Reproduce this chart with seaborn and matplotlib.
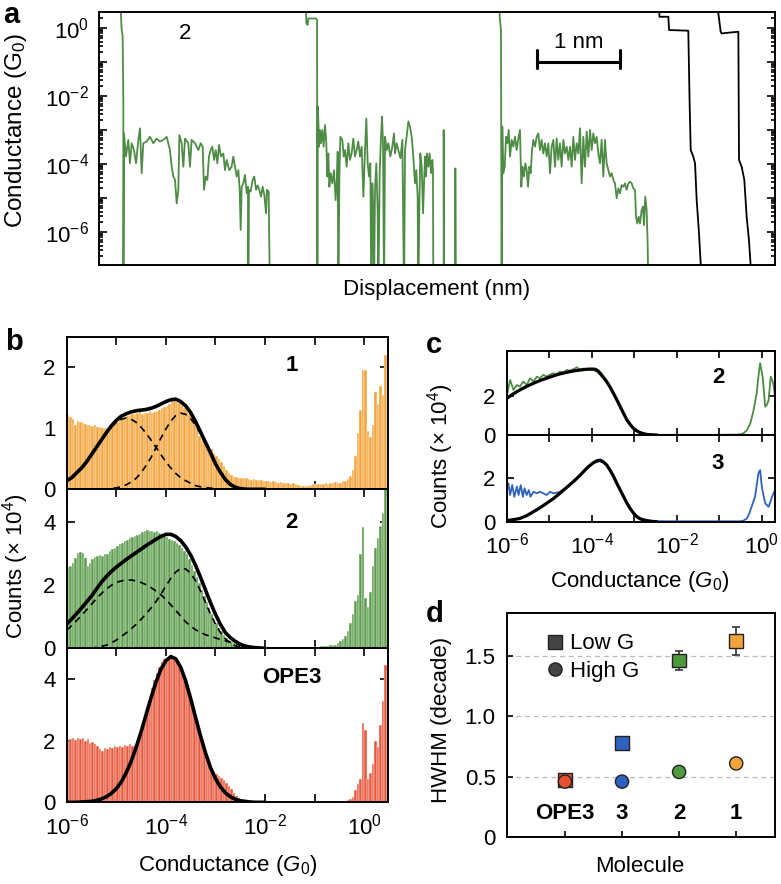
import numpy as np
import pandas as pd
import matplotlib
matplotlib.use("Agg")
import matplotlib.pyplot as plt
import seaborn as sns
from matplotlib.lines import Line2D

sns.set_theme(style="ticks")
plt.rcParams["font.family"] = ["Liberation Sans", "DejaVu Sans"]
plt.rcParams["mathtext.fontset"] = "custom"
plt.rcParams["mathtext.rm"] = "Liberation Sans"
plt.rcParams["mathtext.it"] = "Liberation Sans:italic"
plt.rcParams["mathtext.bf"] = "Liberation Sans:bold"
plt.rcParams["axes.unicode_minus"] = True
for key in ["text.color", "axes.labelcolor", "xtick.color", "ytick.color", "axes.edgecolor"]:
    plt.rcParams[key] = "black"

# ---------------- data: panel a (displacement in nm, log10 conductance in G0) ----------------
trace1_x = [0.253, 0.273, 0.285, 0.293, 0.294, 0.301, 0.325, 0.353, 0.373, 0.394,
            0.422, 0.446, 0.474, 0.494, 0.514, 0.534, 0.574, 0.614, 0.655, 0.695,
            0.735, 0.775, 0.815, 0.835, 0.855, 0.876, 0.896, 0.916, 0.936, 0.956,
            0.968, 0.996, 1.016, 1.036, 1.076, 1.096, 1.116, 1.157, 1.197, 1.225,
            1.249, 1.265, 1.285, 1.305, 1.325, 1.345, 1.365, 1.386, 1.406, 1.426,
            1.446, 1.470, 1.498, 1.518, 1.538, 1.570, 1.598, 1.618, 1.639, 1.659,
            1.679, 1.695, 1.707, 1.719, 1.739, 1.759, 1.779, 1.795, 1.799, 1.807,
            1.827, 1.851, 1.871, 1.892, 1.912, 1.932, 1.952, 1.972, 1.992, 2.012,
            2.024, 2.044, 2.060]
trace1_logG = [1.0, -0.06, -0.25, -2.22, -8.0, -3.10, -3.78, -3.29, -3.98, -3.39,
               -3.59, -3.98, -3.29, -2.95, -4.27, -3.39, -3.34, -3.20, -3.39, -3.25,
               -3.34, -3.29, -3.20, -3.39, -3.59, -4.08, -4.37, -4.47, -5.16, -4.76,
               -3.15, -3.39, -4.08, -3.25, -3.39, -4.08, -3.29, -3.39, -3.59, -3.39,
               -3.49, -4.76, -4.37, -4.47, -3.78, -3.59, -3.49, -3.88, -3.59, -3.98,
               -3.44, -3.78, -3.69, -4.18, -3.88, -4.18, -4.08, -3.78, -4.08, -4.37,
               -4.18, -4.76, -5.94, -4.67, -4.57, -4.32, -4.86, -4.67, -8.0, -4.76,
               -4.81, -4.47, -4.37, -4.76, -4.63, -4.76, -4.96, -4.67, -4.91, -5.45,
               -4.76, -4.81, -8.0]
trace2_x = [2.490, 2.498, 2.514, 2.522, 2.610, 2.627, 2.631, 2.635, 2.643, 2.651,
            2.663, 2.675, 2.691, 2.707, 2.723, 2.739, 2.751, 2.763, 2.775, 2.791,
            2.811, 2.831, 2.851, 2.867, 2.876, 2.884, 2.896, 2.908, 2.932, 2.948,
            2.964, 2.984, 3.004, 3.024, 3.044, 3.064, 3.084, 3.104, 3.124, 3.145,
            3.165, 3.185, 3.205, 3.221, 3.237, 3.253, 3.269, 3.281, 3.293, 3.305,
            3.313, 3.325, 3.341, 3.357, 3.365, 3.382, 3.398, 3.410, 3.422, 3.434,
            3.446, 3.466, 3.486, 3.510, 3.534, 3.554, 3.566, 3.586, 3.606, 3.631,
            3.655, 3.675, 3.687, 3.711, 3.727, 3.747, 3.767, 3.787, 3.807, 3.823,
            3.839, 3.847, 3.859, 3.871, 3.888, 3.904, 3.916, 3.928, 3.940, 3.952,
            3.968, 3.984, 4.000, 4.016, 4.024, 4.028, 4.153, 4.153, 4.157, 4.293,
            4.293, 4.297]
trace2_logG = [1.0, 0.14, 0.09, 0.28, 0.28, 0.24, -8.0, -2.31, -2.71, -3.49,
               -3.00, -3.39, -3.00, -3.49, -2.85, -3.39, -4.37, -3.69, -4.67, -4.27,
               -4.57, -4.18, -5.06, -4.37, -3.64, -8.0, -4.37, -3.20, -3.29, -3.78,
               -3.59, -4.08, -3.39, -3.88, -3.69, -3.25, -3.78, -3.59, -3.34, -3.78,
               -3.49, -4.96, -3.59, -2.66, -3.98, -4.37, -3.98, -8.0, -4.57, -5.55,
               -8.0, -4.76, -3.98, -5.35, -8.0, -4.18, -3.20, -2.61, -3.39, -8.0,
               -3.20, -3.59, -3.39, -3.78, -3.49, -3.10, -3.69, -3.39, -3.59, -3.83,
               -3.29, -8.0, -3.59, -3.10, -2.75, -2.90, -3.20, -3.78, -4.57, -4.18,
               -4.96, -8.0, -5.35, -3.69, -4.08, -5.45, -4.57, -3.78, -4.37, -3.69,
               -4.08, -3.69, -4.27, -3.88, -4.18, -8.0, -8.0, -3.00, -8.0, -8.0,
               -4.13, -8.0]
trace3_x = [4.811, 4.831, 4.843, 4.851, 4.859, 4.871, 4.888, 4.904, 4.920, 4.936,
            4.952, 4.972, 4.992, 5.012, 5.032, 5.052, 5.072, 5.088, 5.104, 5.120,
            5.137, 5.153, 5.169, 5.185, 5.201, 5.217, 5.233, 5.253, 5.273, 5.293,
            5.313, 5.333, 5.353, 5.373, 5.394, 5.414, 5.434, 5.454, 5.474, 5.494,
            5.514, 5.534, 5.554, 5.574, 5.594, 5.614, 5.635, 5.655, 5.675, 5.695,
            5.715, 5.735, 5.755, 5.775, 5.795, 5.815, 5.835, 5.855, 5.876, 5.896,
            5.916, 5.936, 5.956, 5.976, 5.996, 6.016, 6.036, 6.056, 6.076, 6.096,
            6.116, 6.137, 6.157, 6.177, 6.197, 6.217, 6.237, 6.257, 6.277, 6.297,
            6.317, 6.337, 6.357, 6.378, 6.398, 6.418, 6.438, 6.458, 6.470, 6.486,
            6.502, 6.518, 6.538, 6.554, 6.566, 6.582, 6.598, 6.610, 6.622]
trace3_logG = [1.0, 0.24, -0.06, -8.0, -2.90, -4.27, -4.08, -3.20, -3.39, -3.00,
               -3.78, -3.29, -3.49, -3.20, -3.59, -3.25, -3.00, -4.67, -4.08, -4.37,
               -3.98, -4.18, -4.67, -4.08, -4.27, -3.59, -3.29, -3.49, -3.20, -3.10,
               -3.59, -3.29, -3.69, -3.39, -3.78, -3.39, -4.27, -3.49, -3.29, -4.08,
               -3.25, -3.88, -3.39, -4.08, -3.29, -3.69, -3.49, -3.88, -3.49, -4.08,
               -3.20, -3.88, -3.39, -3.69, -2.95, -4.57, -3.20, -4.08, -3.05, -3.78,
               -3.00, -3.59, -3.10, -3.39, -3.20, -3.69, -3.98, -3.29, -4.37, -3.29,
               -3.98, -4.18, -4.37, -4.27, -4.47, -4.57, -5.01, -4.72, -4.86, -4.62,
               -4.67, -4.57, -4.76, -4.57, -4.52, -4.57, -4.72, -4.76, -5.55, -5.75,
               -5.55, -5.75, -5.35, -5.25, -5.80, -4.96, -5.35, -6.33, -8.0]
gold1_x = [6.752, 6.752, 6.860, 6.868, 7.100, 7.116, 7.129, 7.160, 7.181, 7.201, 7.229, 7.249, 7.256]
gold1_logG = [1.0, 0.33, 0.33, -0.06, -0.08, -2.22, -3.59, -3.78, -3.98, -5.06, -6.04, -6.92, -8.0]
gold2_x = [7.462, 7.462, 7.490, 7.502, 7.703, 7.711, 7.743, 7.775, 7.803, 7.831, 7.851, 7.858]
gold2_logG = [1.0, 0.43, -0.11, -0.16, -0.11, -3.88, -4.08, -4.47, -5.55, -6.24, -6.97, -8.0]

# ---------------- data: panel b histograms (20 bins / decade, 1e-6 .. 10^0.5), counts x1e4 ----------------
bin_edges_log = [round(-6.0 + 0.05 * k, 3) for k in range(131)]
hist_1 = [1.22, 1.18, 1.15, 1.05, 1.12, 1.10, 1.09, 1.07, 1.05, 1.06, 1.04, 1.05, 1.03, 1.02, 1.00, 1.01, 1.00, 1.03, 1.06, 1.08,
          1.10, 1.13, 1.16, 1.18, 1.21, 1.22, 1.24, 1.23, 1.25, 1.27, 1.24, 1.26, 1.25, 1.28, 1.26, 1.27, 1.29, 1.30, 1.33, 1.35,
          1.37, 1.40, 1.46, 1.50, 1.44, 1.42, 1.38, 1.34, 1.30, 1.24, 1.16, 1.08, 0.98, 0.88, 0.80, 0.76, 0.73, 0.70, 0.66, 0.60,
          0.55, 0.49, 0.44, 0.38, 0.32, 0.26, 0.23, 0.21, 0.20, 0.19, 0.19, 0.18, 0.18, 0.17, 0.16, 0.17, 0.15, 0.16, 0.15, 0.14,
          0.14, 0.13, 0.12, 0.13, 0.12, 0.11, 0.12, 0.10, 0.11, 0.10, 0.09, 0.10, 0.08, 0.07, 0.06, 0.05, 0.05, 0.06, 0.07, 0.08,
          0.09, 0.08, 0.08, 0.09, 0.10, 0.09, 0.10, 0.11, 0.12, 0.10, 0.11, 0.13, 0.14, 0.17, 0.22, 0.32, 0.55, 0.92, 1.30, 1.96,
          1.96, 0.95, 0.86, 1.05, 1.60, 1.40, 1.70, 1.55, 2.20, 2.00]
hist_2 = [2.58, 2.62, 2.72, 2.86, 3.02, 3.05, 3.04, 2.88, 2.60, 2.72, 2.84, 2.90, 2.94, 2.97, 2.92, 3.00, 2.98, 3.08, 3.14, 3.20,
          3.26, 3.30, 3.36, 3.40, 3.45, 3.50, 3.52, 3.56, 3.60, 3.64, 3.68, 3.72, 3.75, 3.72, 3.74, 3.70, 3.72, 3.66, 3.62, 3.56,
          3.54, 3.48, 3.44, 3.40, 3.34, 3.28, 3.20, 3.10, 2.98, 2.85, 2.66, 2.46, 2.26, 2.06, 1.86, 1.66, 1.46, 1.28, 1.10, 0.94,
          0.80, 0.66, 0.54, 0.43, 0.34, 0.27, 0.21, 0.16, 0.12, 0.09, 0.07, 0.05, 0.04, 0.03, 0.03, 0.02, 0.02, 0.02, 0.02, 0.02,
          0.02, 0.03, 0.02, 0.02, 0.03, 0.02, 0.02, 0.02, 0.03, 0.02, 0.02, 0.02, 0.02, 0.02, 0.02, 0.02, 0.03, 0.03, 0.04, 0.05,
          0.05, 0.05, 0.06, 0.06, 0.07, 0.08, 0.09, 0.10, 0.12, 0.16, 0.22, 0.30, 0.40, 0.55, 0.80, 1.10, 1.50, 1.70, 3.00, 3.85,
          1.60, 1.30, 1.80, 2.60, 3.20, 3.50, 3.90, 4.30, 5.10, 4.80]
hist_ope3 = [1.95, 2.05, 2.08, 2.02, 2.10, 2.04, 2.08, 1.98, 2.05, 1.92, 1.96, 1.88, 1.84, 1.74, 1.66, 1.76, 1.72, 1.80, 1.76, 1.82,
             1.78, 1.84, 1.80, 1.86, 1.82, 1.88, 1.84, 1.86, 1.92, 2.12, 2.45, 2.78, 3.10, 3.40, 3.70, 3.98, 4.20, 4.40, 4.55, 4.64,
             4.70, 4.72, 4.74, 4.66, 4.54, 4.40, 4.20, 3.98, 3.72, 3.45, 3.14, 2.85, 2.55, 2.26, 1.98, 1.72, 1.48, 1.28, 1.12, 1.00,
             0.92, 0.86, 0.80, 0.73, 0.64, 0.54, 0.42, 0.31, 0.21, 0.13, 0.08, 0.05, 0.03, 0.02, 0.02, 0.01, 0.01, 0.01, 0.01, 0.01,
             0.01, 0.01, 0.01, 0.01, 0.01, 0.01, 0.01, 0.01, 0.01, 0.01, 0.01, 0.01, 0.01, 0.01, 0.01, 0.01, 0.01, 0.01, 0.01, 0.01,
             0.01, 0.01, 0.01, 0.01, 0.01, 0.01, 0.01, 0.02, 0.02, 0.02, 0.02, 0.03, 0.04, 0.06, 0.10, 0.18, 0.40, 0.60, 0.75, 2.58,
             2.36, 0.75, 0.95, 1.25, 2.00, 1.80, 2.50, 3.30, 4.45, 4.30]

# fit curves (log10 G, counts x1e4)
fit_grid = [-6.0, -5.9, -5.8, -5.7, -5.6, -5.5, -5.4, -5.3, -5.2, -5.1, -5.0, -4.9, -4.8, -4.7, -4.6, -4.5, -4.4,
            -4.3, -4.2, -4.1, -4.0, -3.9, -3.8, -3.7, -3.6, -3.5, -3.4, -3.3, -3.2, -3.1, -3.0, -2.9, -2.8, -2.7,
            -2.6, -2.5, -2.4, -2.3, -2.2, -2.1, -2.0]
fit1_total = [0.14, 0.19, 0.27, 0.35, 0.45, 0.57, 0.69, 0.81, 0.93, 1.04, 1.13, 1.20, 1.24, 1.27, 1.29, 1.30, 1.31,
              1.33, 1.36, 1.40, 1.44, 1.47, 1.48, 1.44, 1.37, 1.26, 1.11, 0.94, 0.77, 0.60, 0.42, 0.28, 0.16, 0.08,
              0.035, 0.012, 0.003, 0.0, 0.0, 0.0, 0.0]
fit1_low = [0.14, 0.19, 0.26, 0.35, 0.45, 0.57, 0.69, 0.81, 0.92, 1.02, 1.10, 1.15, 1.17, 1.15, 1.10, 1.02, 0.92,
            0.81, 0.69, 0.57, 0.45, 0.35, 0.26, 0.19, 0.14, 0.10, 0.06, 0.04, 0.03, 0.02, 0.01, 0.0, 0.0, 0.0,
            0.0, 0.0, 0.0, 0.0, 0.0, 0.0, 0.0]
fit1_high = [0.0, 0.0, 0.0, 0.0, 0.0, 0.0, 0.0, 0.003, 0.007, 0.013, 0.024, 0.043, 0.073, 0.12, 0.18, 0.27, 0.39,
             0.52, 0.68, 0.84, 0.99, 1.12, 1.21, 1.25, 1.23, 1.16, 1.05, 0.90, 0.74, 0.58, 0.41, 0.27, 0.16, 0.08,
             0.035, 0.012, 0.0, 0.0, 0.0, 0.0, 0.0]
fit2_total = [0.77, 0.93, 1.10, 1.28, 1.47, 1.66, 1.88, 2.10, 2.28, 2.44, 2.58, 2.70, 2.82, 2.93, 3.04, 3.15, 3.26,
              3.36, 3.46, 3.55, 3.62, 3.62, 3.55, 3.42, 3.22, 2.96, 2.63, 2.25, 1.85, 1.45, 1.08, 0.76, 0.50, 0.34,
              0.22, 0.13, 0.07, 0.04, 0.02, 0.01, 0.0]
fit2_low = [0.58, 0.72, 0.88, 1.05, 1.22, 1.40, 1.58, 1.74, 1.88, 2.00, 2.09, 2.14, 2.17, 2.17, 2.14, 2.09, 2.02,
            1.93, 1.82, 1.70, 1.55, 1.38, 1.20, 1.02, 0.84, 0.70, 0.59, 0.50, 0.43, 0.38, 0.33, 0.28, 0.24, 0.20,
            0.15, 0.11, 0.08, 0.05, 0.03, 0.02, 0.01]
fit2_high = [0.0, 0.0, 0.0, 0.0, 0.0, 0.0, 0.03, 0.06, 0.10, 0.17, 0.26, 0.37, 0.49, 0.62, 0.76, 0.92, 1.09,
             1.28, 1.48, 1.72, 1.98, 2.22, 2.42, 2.54, 2.52, 2.38, 2.14, 1.82, 1.45, 1.09, 0.77, 0.50, 0.30, 0.16,
             0.08, 0.04, 0.02, 0.01, 0.0, 0.0, 0.0]
fit_ope3 = [0.0, 0.0, 0.0, 0.01, 0.02, 0.03, 0.06, 0.11, 0.18, 0.29, 0.44, 0.66, 0.96, 1.33, 1.78, 2.29, 2.84,
            3.39, 3.90, 4.32, 4.60, 4.73, 4.66, 4.38, 3.94, 3.37, 2.75, 2.15, 1.60, 1.13, 0.77, 0.50, 0.31, 0.18,
            0.10, 0.05, 0.03, 0.01, 0.0, 0.0, 0.0]

# ---------------- data: panel c ----------------
c2_logG = [-6.0, -5.92, -5.84, -5.76, -5.69, -5.61, -5.53, -5.45, -5.37, -5.29, -5.22, -5.14, -5.06, -4.98, -4.90,
           -4.82, -4.75, -4.67, -4.59, -4.51, -4.43, -4.35, -4.27, -4.20, -4.12, -4.04, -3.96, -3.88, -3.80, -3.73,
           -3.65, -3.57, -3.49, -3.41, -3.33, -3.25, -3.18, -3.10, -3.02, -2.94, -2.86, -2.78, -2.71, -2.5, -2.0,
           -1.5, -1.0, -0.75, -0.6, -0.5, -0.43, -0.35, -0.27, -0.2, -0.12, -0.08, -0.04, 0.02, 0.08, 0.12, 0.16,
           0.21, 0.27, 0.31]
c2_counts = [1.97, 2.82, 2.31, 2.56, 2.48, 2.74, 2.56, 2.91, 2.74, 2.99, 2.91, 3.08, 2.99, 3.10, 3.16,
             3.12, 3.25, 3.20, 3.33, 3.30, 3.37, 3.47, 3.33, 3.40, 3.37, 3.36, 3.33, 3.25, 3.08, 2.92,
             2.74, 2.46, 2.14, 1.80, 1.45, 1.10, 0.77, 0.52, 0.34, 0.20, 0.12, 0.06, 0.03, 0.01, 0.01,
             0.01, 0.01, 0.02, 0.02, 0.04, 0.09, 0.25, 0.60, 1.20, 2.14, 3.00, 3.68, 2.99, 1.45, 1.55, 1.79,
             2.99, 2.65, 1.97]
c2_fit_logG = [-6.0, -5.85, -5.69, -5.53, -5.37, -5.22, -5.06, -4.90, -4.75, -4.59, -4.43, -4.27, -4.12, -4.00,
               -3.92, -3.86, -3.80, -3.73, -3.65, -3.57, -3.49, -3.41, -3.33, -3.25, -3.18, -3.10, -3.02, -2.94,
               -2.86, -2.78, -2.71, -2.6, -2.47]
c2_fit = [1.88, 2.10, 2.31, 2.49, 2.65, 2.79, 2.91, 3.03, 3.13, 3.21, 3.28, 3.33, 3.37, 3.38,
          3.37, 3.30, 3.16, 2.97, 2.74, 2.46, 2.14, 1.80, 1.45, 1.10, 0.80, 0.55, 0.34, 0.21,
          0.12, 0.07, 0.03, 0.01, 0.0]
c3_logG = [-6.0, -5.96, -5.92, -5.87, -5.82, -5.76, -5.72, -5.67, -5.62, -5.58, -5.53, -5.48, -5.44, -5.37, -5.29,
           -5.22, -5.14, -5.06, -4.98, -4.90, -4.82, -4.75, -4.67, -4.59, -4.43, -4.27, -4.12, -4.04, -3.96, -3.88,
           -3.80, -3.73, -3.69, -3.57, -3.49, -3.41, -3.33, -3.25, -3.18, -3.10, -3.02, -2.94, -2.86, -2.78, -2.55,
           -2.16, -1.5, -1.0, -0.51, -0.43, -0.35, -0.29, -0.24, -0.16, -0.08, -0.04, 0.0, 0.04, 0.08, 0.16,
           0.24, 0.31]
c3_counts = [1.38, 1.77, 1.23, 1.69, 1.15, 1.62, 1.23, 1.69, 1.15, 1.54, 1.23, 1.46, 1.15, 1.38, 1.31,
             1.38, 1.31, 1.23, 1.38, 1.31, 1.34, 1.38, 1.48, 1.58, 1.87, 2.15, 2.48, 2.62, 2.74, 2.85,
             2.88, 2.80, 2.72, 2.42, 2.12, 1.80, 1.48, 1.18, 0.90, 0.65, 0.42, 0.26, 0.16, 0.11, 0.03,
             0.02, 0.02, 0.02, 0.02, 0.05, 0.15, 0.40, 0.69, 1.15, 2.23, 2.38, 1.62, 1.20, 0.85, 0.69,
             1.15, 1.46]
c3_fit_logG = [-6.0, -5.85, -5.69, -5.53, -5.37, -5.22, -5.06, -4.90, -4.75, -4.59, -4.43, -4.27, -4.12, -4.04,
               -3.96, -3.88, -3.80, -3.73, -3.65, -3.57, -3.49, -3.41, -3.33, -3.25, -3.18, -3.10, -3.02, -2.94,
               -2.86, -2.78, -2.70, -2.63, -2.47]
c3_fit = [0.05, 0.09, 0.15, 0.28, 0.46, 0.64, 0.85, 1.07, 1.31, 1.58, 1.85, 2.15, 2.46, 2.60,
          2.72, 2.80, 2.82, 2.76, 2.62, 2.38, 2.10, 1.77, 1.46, 1.15, 0.88, 0.62, 0.40, 0.23,
          0.13, 0.08, 0.04, 0.02, 0.0]

# ---------------- data: panel d ----------------
molecules = ["OPE3", "3", "2", "1"]
hwhm_low = [0.47, 0.78, 1.46, 1.62]
hwhm_low_err = [0.0, 0.0, 0.075, 0.115]
hwhm_high = [0.46, 0.46, 0.54, 0.61]
mol_colors = ["#E5502F", "#2F62C0", "#4E9A3E", "#F2A33A"]

# ---------------- styling ----------------
FS = 16
C_ORANGE = "#F2A33A"
C_GREEN_BAR = "#5C9C4C"
C_GREEN_LINE = "#4E8C45"
C_RED = "#E8573B"
C_BLUE = "#2F62C0"
SPINE_W = 1.4

W, H = 781, 884
fig = plt.figure(figsize=(W / 100, H / 100), dpi=100)


def add_ax(l, t, r, b):
    return fig.add_axes([l / W, 1 - b / H, (r - l) / W, (b - t) / H])


def style(ax):
    for s in ax.spines.values():
        s.set_linewidth(SPINE_W)
        s.set_color("black")
        s.set_visible(True)
    ax.set_xlabel("")
    ax.set_ylabel("")


def pow_labels(vals, shown):
    return [f"$10^{{{v}}}$" if v in shown else "" for v in vals]


# ================= panel a =================
axA = add_ax(99, 12, 775, 265)
for xs, ys, col in [(trace1_x, trace1_logG, C_GREEN_LINE), (trace2_x, trace2_logG, C_GREEN_LINE),
                    (trace3_x, trace3_logG, C_GREEN_LINE), (gold1_x, gold1_logG, "black"),
                    (gold2_x, gold2_logG, "black")]:
    sns.lineplot(x=xs, y=ys, sort=False, estimator=None, color=col, lw=1.3, ax=axA)
style(axA)
axA.set_xlim(0, 676 / 83)
axA.set_ylim(-6.97, 0.47)
axA.set_xticks([])
majA = [0, -1, -2, -3, -4, -5, -6]
axA.set_yticks(majA)
axA.set_yticklabels(pow_labels(majA, [0, -2, -4, -6]), fontsize=FS)
minA = [n + np.log10(k) for n in range(-7, 1) for k in range(2, 10) if -6.97 < n + np.log10(k) < 0.47]
axA.set_yticks(minA, minor=True)
axA.tick_params(axis="y", which="both", direction="in", left=True, right=True, width=1.2, pad=7)
axA.tick_params(axis="y", which="major", length=6)
axA.tick_params(axis="y", which="minor", length=3)
axA.text(1.036, -0.15, "2", fontsize=FS, ha="center", va="center")
# scale bar
axA.plot([5.277, 6.277], [-0.99, -0.99], color="black", lw=2.2, solid_capstyle="butt")
axA.plot([5.277, 5.277], [-0.65, -1.18], color="black", lw=2.2)
axA.plot([6.277, 6.277], [-0.65, -1.18], color="black", lw=2.2)
axA.text(5.777, -0.44, "1 nm", fontsize=FS, ha="center", va="center")
fig.text(16 / W, 1 - 130 / H, "Conductance (G$_0$)", rotation=90, fontsize=17.5, ha="center", va="center")
fig.text(437 / W, 1 - 290 / H, "Displacement (nm)", fontsize=FS, ha="center", va="center")
fig.text(3 / W, 1 - 1 / H, "a", fontsize=21, fontweight="bold", ha="left", va="top")

# ================= panel b =================
b_axes = [add_ax(66.7, 337, 388, 489.3), add_ax(66.7, 489.3, 388, 648.3), add_ax(66.7, 648.3, 388, 802.3)]
b_hists = [hist_1, hist_2, hist_ope3]
b_colors = [C_ORANGE, C_GREEN_BAR, C_RED]
b_totals = [fit1_total, fit2_total, fit_ope3]
b_parts = [(fit1_low, fit1_high), (fit2_low, fit2_high), None]
b_ylims = [2.5, 5.05, 5.0]
b_yticks = [[0, 1, 2], [0, 2, 4], [0, 2, 4]]
b_names = ["1", "2", "OPE3"]
b_name_y = [2.04, 4.0, 4.04]
centers = [round((bin_edges_log[k] + bin_edges_log[k + 1]) / 2, 4) for k in range(len(bin_edges_log) - 1)]
majB = [-6, -5, -4, -3, -2, -1, 0]
for i, ax in enumerate(b_axes):
    df = pd.DataFrame({"logG": centers, "counts": b_hists[i]})
    sns.histplot(data=df, x="logG", weights="counts", bins=bin_edges_log, color=b_colors[i],
                 edgecolor="white", linewidth=0.3, alpha=1.0, ax=ax)
    if b_parts[i] is not None:
        for part in b_parts[i]:
            sns.lineplot(x=fit_grid, y=part, sort=False, estimator=None, color="black",
                         lw=1.2, linestyle=(0, (4, 3)), ax=ax)
    sns.lineplot(x=fit_grid, y=b_totals[i], sort=False, estimator=None, color="black", lw=2.6, ax=ax)
    style(ax)
    ax.set_xlim(-6, 0.48)
    ax.set_ylim(0, b_ylims[i])
    ax.set_yticks(b_yticks[i])
    ax.set_yticklabels([str(v) for v in b_yticks[i]], fontsize=FS)
    ax.set_xticks(majB)
    if i == 2:
        ax.set_xticklabels(pow_labels(majB, [-6, -4, -2, 0]), fontsize=FS)
    else:
        ax.set_xticklabels([])
    ax.tick_params(axis="both", which="both", direction="in", top=True, right=True, length=6, width=1.2, pad=8)
    ax.text(-1.46, b_name_y[i], b_names[i], fontsize=FS, fontweight="bold", ha="center", va="center")
fig.text(16 / W, 1 - 566 / H, "Counts (× 10$^4$)", rotation=90, fontsize=FS, ha="center", va="center")
fig.text(228 / W, 1 - 866 / H, "Conductance ($G_0$)", fontsize=FS, ha="center", va="center")
fig.text(5 / W, 1 - 328 / H, "b", fontsize=21, fontweight="bold", ha="left", va="top")

# ================= panel c =================
c_axes = [add_ax(506.7, 350.7, 775, 435), add_ax(506.7, 435, 775, 521.7)]
c_data = [(c2_logG, c2_counts, c2_fit_logG, c2_fit, C_GREEN_LINE, 4.32, "2", 2.97),
          (c3_logG, c3_counts, c3_fit_logG, c3_fit, C_BLUE, 4.0, "3", 2.7)]
for i, ax in enumerate(c_axes):
    xs, ys, fx, fy, col, ytop, name, ny = c_data[i]
    sns.lineplot(x=xs, y=ys, sort=False, estimator=None, color=col, lw=1.3, ax=ax)
    sns.lineplot(x=fx, y=fy, sort=False, estimator=None, color="black", lw=2.3, ax=ax)
    style(ax)
    ax.set_xlim(-6, 0.31)
    ax.set_ylim(0, ytop)
    ax.set_yticks([0, 2])
    ax.set_yticklabels(["0", "2"], fontsize=FS)
    ax.set_xticks(majB)
    if i == 1:
        ax.set_xticklabels(pow_labels(majB, [-6, -4, -2, 0]), fontsize=FS)
    else:
        ax.set_xticklabels([])
    ax.tick_params(axis="both", which="both", direction="in", top=True, right=True, length=5, width=1.2, pad=8)
    ax.text(-1.03, ny, name, fontsize=FS, fontweight="bold", ha="center", va="center")
fig.text(441 / W, 1 - 456 / H, "Counts (× 10$^4$)", rotation=90, fontsize=FS, ha="center", va="center")
fig.text(640 / W, 1 - 582 / H, "Conductance ($G_0$)", fontsize=FS, ha="center", va="center")
fig.text(426 / W, 1 - 331 / H, "c", fontsize=21, fontweight="bold", ha="left", va="top")

# ================= panel d =================
axD = add_ax(506.7, 613.3, 775, 837.3)
mol_pos = list(range(len(molecules)))
for yv in [0.5, 1.0, 1.5]:
    axD.axhline(yv, color="#BBBBBB", lw=0.9, ls=(0, (4, 3)), zorder=0)
axD.errorbar(mol_pos, hwhm_low, yerr=hwhm_low_err, fmt="none", ecolor="#333333", elinewidth=1.2,
             capsize=3, capthick=1.2, zorder=2)
pal = dict(zip(molecules, mol_colors))
sns.scatterplot(x=mol_pos, y=hwhm_low, hue=molecules, palette=pal, marker="s", s=100,
                edgecolor="#222222", linewidth=1.0, legend=False, ax=axD, zorder=3)
sns.scatterplot(x=mol_pos, y=hwhm_high, hue=molecules, palette=pal, marker="o", s=90,
                edgecolor="#222222", linewidth=1.0, legend=False, ax=axD, zorder=4)
style(axD)
axD.set_xlim(-1.02, 3.68)
axD.set_ylim(0, 1.85)
axD.set_yticks([0, 0.5, 1.0, 1.5])
axD.set_yticklabels(["0", "0.5", "1.0", "1.5"], fontsize=FS)
axD.set_xticks(mol_pos)
axD.set_xticklabels([])
axD.tick_params(axis="both", direction="in", length=4, width=1.2, pad=8)
for p, name in zip(mol_pos, molecules):
    axD.text(p, 0.2, name, fontsize=FS, fontweight="bold", ha="center", va="center")
handles = [Line2D([], [], marker="s", ls="none", color="#444444", markeredgecolor="#222222", markersize=10),
           Line2D([], [], marker="o", ls="none", color="#444444", markeredgecolor="#222222", markersize=9.5)]
axD.legend(handles, ["Low G", "High G"], loc="upper left", bbox_to_anchor=(0.08, 0.97), frameon=False,
           fontsize=FS, handletextpad=0.1, handlelength=1.2, labelspacing=0.3, borderaxespad=0.2)
fig.text(441 / W, 1 - 720 / H, "HWHM (decade)", rotation=90, fontsize=FS, ha="center", va="center")
fig.text(640 / W, 1 - 867 / H, "Molecule", fontsize=FS, ha="center", va="center")
fig.text(426 / W, 1 - 600 / H, "d", fontsize=21, fontweight="bold", ha="left", va="top")

fig.savefig("out.png", dpi=100)
